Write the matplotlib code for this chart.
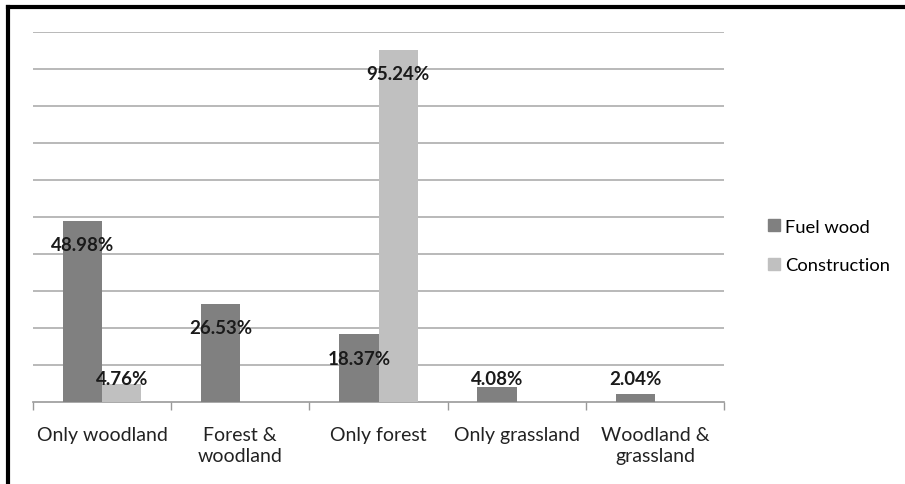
import numpy as np
import matplotlib
matplotlib.use('Agg')
import matplotlib.pyplot as plt
from matplotlib.lines import Line2D

plt.rcParams['font.family'] = ['Lato', 'DejaVu Sans']

# 数据
categories = ['Only woodland', 'Forest &\nwoodland', 'Only forest', 'Only grassland', 'Woodland &\ngrassland']
fuel_wood = [48.98, 26.53, 18.37, 4.08, 2.04]
construction = [4.76, 0, 95.24, 0, 0]
series_names = ['Fuel wood', 'Construction']

fig = plt.figure(figsize=(9.05, 4.85), dpi=100)
ax = fig.add_axes([33 / 905, 82 / 485, 691 / 905, 370 / 485])

x = np.arange(len(categories))
w = 0.285
c_fuel = '#808080'
c_cons = '#c0c0c0'
ax.bar(x - w / 2, fuel_wood, w, color=c_fuel, zorder=3, label=series_names[0])
ax.bar(x + w / 2, construction, w, color=c_cons, zorder=3, label=series_names[1])

# 数据标签
for i in range(len(categories)):
    for v, off in ((fuel_wood[i], -w / 2), (construction[i], w / 2)):
        if v <= 0:
            continue
        ax.text(x[i] + off, max(v - 6.5, 6.3), f'{v:.2f}%', ha='center', va='center',
                fontsize=13.5, fontweight='bold', color='#1a1a1a', zorder=4)

ax.set_xlim(-0.5, len(categories) - 0.5)
ax.set_ylim(0, 100)
ax.set_yticks(np.arange(10, 101, 10))
ax.yaxis.grid(True, color='#b3b3b3', linewidth=1.3, zorder=0)
ax.tick_params(axis='y', left=False, labelleft=False)

ax.set_xticks(x)
ax.set_xticklabels(categories, fontsize=14, color='#222222', linespacing=1.3)
ax.set_xticks(np.arange(-0.5, len(categories), 1), minor=True)
ax.tick_params(axis='x', which='major', length=0, pad=17)
ax.tick_params(axis='x', which='minor', length=6, color='#999999', width=1)

for s in ['top', 'right', 'left']:
    ax.spines[s].set_visible(False)
ax.spines['bottom'].set_color('#999999')
ax.spines['bottom'].set_linewidth(1.2)

handles = [Line2D([], [], marker='s', linestyle='none', markersize=8.5, color=c) for c in (c_fuel, c_cons)]
fig.legend(handles, series_names, loc='center left', bbox_to_anchor=(749 / 905, 1 - 247 / 485),
           frameon=False, fontsize=13.2, handletextpad=0.15, labelspacing=1.25, handlelength=0.9)

# 外框（仅上边和左边）
fig.add_artist(Line2D([8 / 905, 1], [1 - 8 / 485, 1 - 8 / 485], color='black', linewidth=3, transform=fig.transFigure))
fig.add_artist(Line2D([8 / 905, 8 / 905], [0, 1 - 8 / 485], color='black', linewidth=3, transform=fig.transFigure))

plt.savefig('out.png', dpi=100)
plt.close()
